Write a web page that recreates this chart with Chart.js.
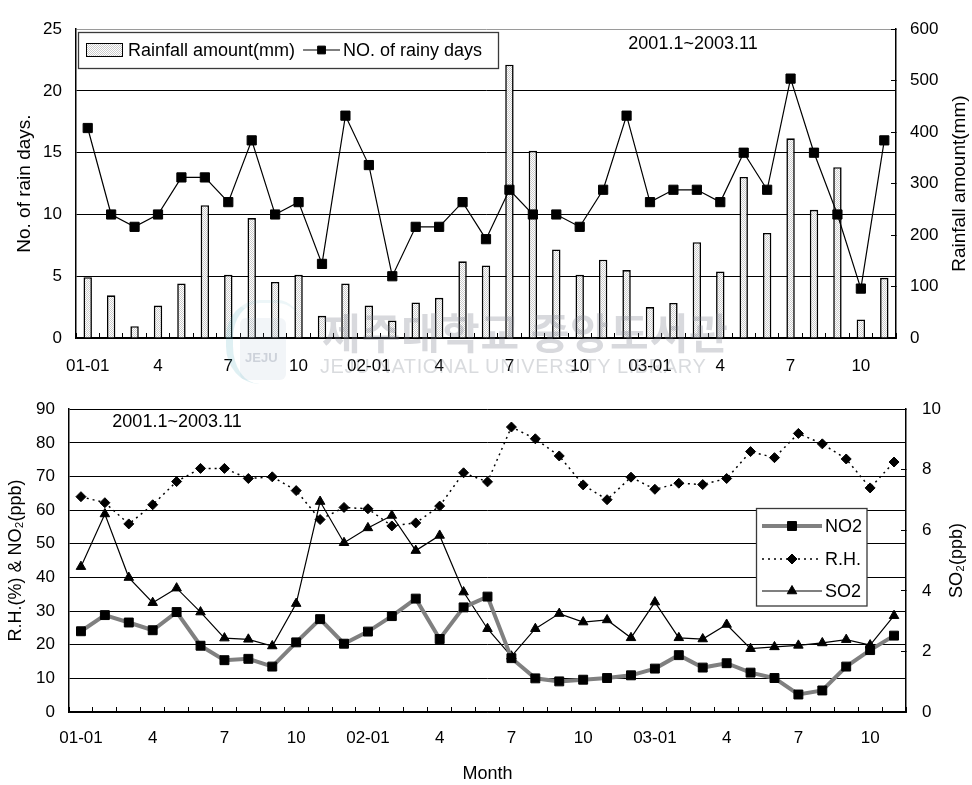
<!DOCTYPE html>
<html>
<head>
<meta charset="utf-8">
<script src="https://cdn.jsdelivr.net/npm/chart.js@4.4.1/dist/chart.umd.min.js"></script>
<style>
  html, body { margin: 0; padding: 0; background: #fff; }
  #wrap { position: relative; width: 972px; height: 785px; overflow: hidden; background: #fff; }
  #rainChart { position: absolute; left: 0; top: 0; }
  #airChart { position: absolute; left: 0; top: 378px; }
  .wm { position: absolute; pointer-events: none; white-space: nowrap; }
  #wmKo { left: 322px; top: 300px; font: bold 42px 'Noto Sans CJK KR', sans-serif; color: rgba(125,130,142,0.30); letter-spacing: 1px; }
  #wmEn { left: 320px; top: 355px; font: 20px 'Liberation Sans', Arial, sans-serif; color: rgba(120,125,135,0.28); letter-spacing: 0.6px; }
  #wmLogo { left: 226px; top: 300px; width: 74px; height: 84px; border-radius: 45% 30% 45% 45%; border-left: 7px solid rgba(80,170,190,0.18); border-top: 3px solid rgba(80,170,190,0.10); box-sizing: border-box; }
  #wmLogoIn { left: 240px; top: 318px; width: 46px; height: 62px; border-radius: 6px; background: rgba(150,170,195,0.12); }
  #wmLogoTx { left: 245px; top: 350px; font: bold 13px 'Liberation Sans', Arial, sans-serif; color: rgba(120,130,150,0.30); }
</style>
</head>
<body>
<div id="wrap">
  <canvas id="rainChart" width="972" height="378"></canvas>
  <canvas id="airChart" width="972" height="407"></canvas>
  <div class="wm" id="wmLogo"></div>
  <div class="wm" id="wmLogoIn"></div>
  <div class="wm" id="wmLogoTx">JEJU</div>
  <div class="wm" id="wmKo">제주대학교 중앙도서관</div>
  <div class="wm" id="wmEn">JEJU NATIONAL UNIVERSITY LIBRARY</div>
</div>
<script>
// Monthly series, January 2001 to November 2003
const months = [
  '01-01','01-02','01-03','01-04','01-05','01-06','01-07','01-08','01-09','01-10','01-11','01-12',
  '02-01','02-02','02-03','02-04','02-05','02-06','02-07','02-08','02-09','02-10','02-11','02-12',
  '03-01','03-02','03-03','03-04','03-05','03-06','03-07','03-08','03-09','03-10','03-11'
];
const tickLabels = [
  '01-01','','','4','','','7','','','10','','',
  '02-01','','','4','','','7','','','10','','',
  '03-01','','','4','','','7','','','10',''
];
const periodText = '2001.1~2003.11';

// Rain: number of rainy days and monthly rainfall amount (mm)
const rainDays = [17,10,9,10,13,13,11,16,10,11,6,18,14,5,9,9,11,8,12,10,10,9,12,18,11,12,12,11,15,12,21,15,10,4,16];
const rainfall = [118,83,23,63,106,258,123,233,109,123,43,106,63,34,69,78,149,141,531,364,172,123,152,132,60,68,186,129,313,204,388,249,332,36,117];

// Air quality: NO2 (ppb), relative humidity (%), SO2 (ppb)
const no2 = [24.0,28.8,26.6,24.3,29.7,19.7,15.4,15.8,13.5,20.7,27.6,20.3,23.9,28.5,33.7,21.7,31.1,34.3,16.0,10.0,9.1,9.6,10.1,10.9,12.9,16.9,13.2,14.5,11.7,10.1,5.2,6.4,13.5,18.4,22.7];
const rh = [64.0,62.2,55.9,61.6,68.5,72.4,72.4,69.4,69.9,65.8,57.2,60.8,60.4,55.3,56.2,61.2,71.1,68.4,84.7,81.2,76.1,67.5,63.1,69.8,66.2,68.0,67.6,69.4,77.4,75.6,82.8,79.7,75.2,66.6,74.3];
const so2 = [4.80,6.54,4.44,3.61,4.09,3.30,2.44,2.40,2.18,3.58,6.95,5.59,6.08,6.49,5.33,5.83,3.96,2.75,1.84,2.75,3.25,2.97,3.04,2.45,3.63,2.45,2.41,2.89,2.09,2.15,2.20,2.28,2.39,2.21,3.18];

const FONT = "'Liberation Sans', Arial, Helvetica, sans-serif";
Chart.defaults.font.family = FONT;
Chart.defaults.color = '#000';
Chart.defaults.animation = false;
Chart.defaults.plugins.legend.display = false;
Chart.defaults.plugins.tooltip.enabled = false;

// Light dotted fill used for the rainfall columns
function stipple() {
  const c = document.createElement('canvas');
  c.width = 2; c.height = 2;
  const g = c.getContext('2d');
  g.fillStyle = '#ffffff'; g.fillRect(0, 0, 2, 2);
  g.fillStyle = '#cccccc'; g.fillRect(0, 0, 1, 1); g.fillRect(1, 1, 1, 1);
  return g.createPattern(c, 'repeat');
}
const barFill = stipple();

// Rotated (bottom-to-top) title for a right-hand axis, plus the period caption
const extraText = {
  id: 'extraText',
  afterDraw(chart, args, opts) {
    const ctx = chart.ctx, a = chart.chartArea;
    ctx.save();
    ctx.fillStyle = '#000';
    if (opts.rightTitle) {
      ctx.font = opts.rightTitle.size + 'px ' + FONT;
      ctx.textAlign = 'center';
      ctx.textBaseline = 'middle';
      ctx.translate(chart.width - opts.rightTitle.offset, (a.top + a.bottom) / 2);
      ctx.rotate(-Math.PI / 2);
      ctx.fillText(opts.rightTitle.text, 0, 0);
      ctx.setTransform(1, 0, 0, 1, 0, 0);
    }
    if (opts.caption) {
      ctx.font = opts.caption.size + 'px ' + FONT;
      ctx.textAlign = 'center';
      ctx.textBaseline = 'middle';
      ctx.fillText(opts.caption.text, opts.caption.x, opts.caption.y);
    }
    ctx.restore();
  }
};

// Boxed legend drawn inside the plot area from the datasets' own styles
const boxLegend = {
  id: 'boxLegend',
  afterDraw(chart, args, opts) {
    if (!opts.box) return;
    const ctx = chart.ctx;
    const b = opts.box;
    ctx.save();
    ctx.fillStyle = '#fff';
    ctx.fillRect(b.x, b.y, b.w, b.h);
    ctx.strokeStyle = '#3a3a3a';
    ctx.lineWidth = 1.3;
    ctx.strokeRect(b.x, b.y, b.w, b.h);
    ctx.font = opts.size + 'px ' + FONT;
    ctx.textBaseline = 'middle';
    ctx.textAlign = 'left';
    let cx = b.x + 8;
    opts.items.forEach((it) => {
      const ds = chart.data.datasets[it.index];
      const y = it.y;
      const x0 = it.x !== undefined ? it.x : cx;
      let tx;
      if (ds.type === 'bar' || (!ds.type && chart.config.type === 'bar')) {
        ctx.fillStyle = ds.backgroundColor;
        ctx.fillRect(x0, y - 7, 37, 14);
        ctx.strokeStyle = '#000';
        ctx.lineWidth = 1;
        ctx.strokeRect(x0 + 0.5, y - 6.5, 36, 13);
        tx = x0 + 42;
      } else {
        const len = it.len;
        ctx.save();
        ctx.strokeStyle = ds.borderColor;
        ctx.lineWidth = ds.borderWidth;
        ctx.setLineDash(ds.borderDash || []);
        ctx.beginPath();
        ctx.moveTo(x0, y);
        ctx.lineTo(x0 + len, y);
        ctx.stroke();
        ctx.restore();
        ctx.fillStyle = ds.pointBackgroundColor;
        ctx.strokeStyle = ds.pointBorderColor;
        ctx.lineWidth = 1;
        Chart.helpers.drawPoint(ctx, {
          pointStyle: ds.pointStyle, radius: it.r || ds.pointRadius, borderWidth: 1, rotation: 0
        }, x0 + len / 2, y);
        tx = x0 + len + 3;
      }
      ctx.fillStyle = '#000';
      ctx.fillText(ds.label, tx, y + 1);
      cx = tx + ctx.measureText(ds.label).width + 8;
    });
    ctx.restore();
  }
};

// ---------- Rainfall / rainy days ----------
new Chart(document.getElementById('rainChart'), {
  type: 'bar',
  plugins: [extraText, boxLegend],
  data: {
    labels: months,
    datasets: [
      {
        type: 'bar',
        label: 'Rainfall amount(mm)',
        data: rainfall,
        yAxisID: 'y1',
        backgroundColor: barFill,
        borderColor: '#000',
        borderWidth: 1.6,
        barPercentage: 0.4,
        categoryPercentage: 0.9,
        order: 2
      },
      {
        type: 'line',
        label: 'NO. of rainy days',
        data: rainDays,
        yAxisID: 'y',
        borderColor: '#000',
        borderWidth: 1.2,
        pointStyle: 'rect',
        pointRadius: 6.5,
        pointBackgroundColor: '#000',
        pointBorderColor: '#000',
        pointBorderWidth: 1,
        tension: 0,
        order: 1
      }
    ]
  },
  options: {
    responsive: false,
    layout: { padding: { top: 19, left: 0, right: 0, bottom: 0 } },
    scales: {
      x: {
        offset: true,
        afterFit: (s) => { s.height = 40; },
        grid: { display: true, offset: true, drawOnChartArea: false, drawTicks: true, tickLength: -5, color: '#000', lineWidth: 1 },
        border: { display: true, color: '#000', width: 1.5 },
        ticks: {
          autoSkip: false, maxRotation: 0, padding: 23, font: { size: 17 },
          callback: (v, i) => tickLabels[i]
        }
      },
      y: {
        position: 'left',
        min: 0, max: 25,
        afterFit: (s) => { s.width = 76; },
        ticks: { stepSize: 5, padding: 14, font: { size: 17 } },
        grid: { drawTicks: false, color: (c) => (c.tick && c.tick.value === 25 ? '#9a9a9a' : '#000'), lineWidth: 1 },
        border: { display: true, color: '#000', width: 1.5 },
        title: { display: true, text: 'No. of rain days.', font: { size: 19 }, padding: { top: 13, bottom: 0 } }
      },
      y1: {
        position: 'right',
        min: 0, max: 600,
        afterFit: (s) => { s.width = 76; },
        ticks: { stepSize: 100, padding: 19, font: { size: 17 } },
        grid: { drawOnChartArea: false, drawTicks: true, tickLength: -5, color: '#000' },
        border: { display: true, color: '#000', width: 1.5 }
      }
    },
    plugins: {
      extraText: {
        rightTitle: { text: 'Rainfall amount(mm)', size: 19, offset: 12 },
        caption: { text: periodText, size: 18, x: 693, y: 44 }
      },
      boxLegend: {
        size: 18,
        box: { x: 78.5, y: 32.5, w: 420, h: 36 },
        items: [ { index: 0, y: 50, x: 86 }, { index: 1, y: 50, len: 37, r: 5.5 } ]
      }
    }
  }
});

// ---------- NO2 / R.H. / SO2 ----------
new Chart(document.getElementById('airChart'), {
  type: 'line',
  plugins: [extraText, boxLegend],
  data: {
    labels: months,
    datasets: [
      {
        label: 'NO2',
        data: no2,
        yAxisID: 'y',
        borderColor: '#808080',
        borderWidth: 4,
        pointStyle: 'rect',
        pointRadius: 6.3,
        pointBackgroundColor: '#000',
        pointBorderColor: '#000',
        pointBorderWidth: 1,
        tension: 0
      },
      {
        label: 'R.H.',
        data: rh,
        yAxisID: 'y',
        borderColor: '#000',
        borderWidth: 1.5,
        borderDash: [2, 4],
        pointStyle: 'rectRot',
        pointRadius: 5,
        pointBackgroundColor: '#000',
        pointBorderColor: '#000',
        pointBorderWidth: 1,
        tension: 0
      },
      {
        label: 'SO2',
        data: so2,
        yAxisID: 'y1',
        borderColor: '#000',
        borderWidth: 1.2,
        pointStyle: 'triangle',
        pointRadius: 5.5,
        pointBackgroundColor: '#000',
        pointBorderColor: '#000',
        pointBorderWidth: 1,
        tension: 0
      }
    ]
  },
  options: {
    responsive: false,
    layout: { padding: { top: 28, left: 0, right: 0, bottom: 0 } },
    scales: {
      x: {
        offset: true,
        afterFit: (s) => { s.height = 73; },
        grid: { display: true, offset: true, drawOnChartArea: false, drawTicks: true, tickLength: -5, color: '#000', lineWidth: 1 },
        border: { display: true, color: '#000', width: 1.5 },
        ticks: {
          autoSkip: false, maxRotation: 0, padding: 21, font: { size: 17 },
          callback: (v, i) => tickLabels[i]
        },
        title: { display: true, text: 'Month', font: { size: 18 }, padding: { top: 0, bottom: 0 } }
      },
      y: {
        position: 'left',
        min: 0, max: 90,
        afterFit: (s) => { s.width = 69; },
        ticks: { stepSize: 10, padding: 14, font: { size: 17 } },
        grid: { drawTicks: false, color: '#000', lineWidth: 1 },
        border: { display: true, color: '#000', width: 1.5 },
        title: { display: true, text: 'R.H.(%) & NO₂(ppb)', font: { size: 18 }, padding: { top: 5, bottom: 0 } }
      },
      y1: {
        position: 'right',
        min: 0, max: 10,
        afterFit: (s) => { s.width = 66; },
        ticks: { stepSize: 2, padding: 21, font: { size: 17 } },
        grid: { drawOnChartArea: false, drawTicks: true, tickLength: -5, color: '#000' },
        border: { display: true, color: '#000', width: 1.5 }
      }
    },
    plugins: {
      extraText: {
        rightTitle: { text: 'SO₂(ppb)', size: 18, offset: 15 },
        caption: { text: periodText, size: 18, x: 177, y: 44 }
      },
      boxLegend: {
        size: 18,
        box: { x: 756.5, y: 130.5, w: 110.5, h: 97.5 },
        items: [
          { index: 0, x: 762, y: 148, len: 60 },
          { index: 1, x: 762, y: 181, len: 60 },
          { index: 2, x: 762, y: 213, len: 60 }
        ]
      }
    }
  }
});
</script>
</body>
</html>
